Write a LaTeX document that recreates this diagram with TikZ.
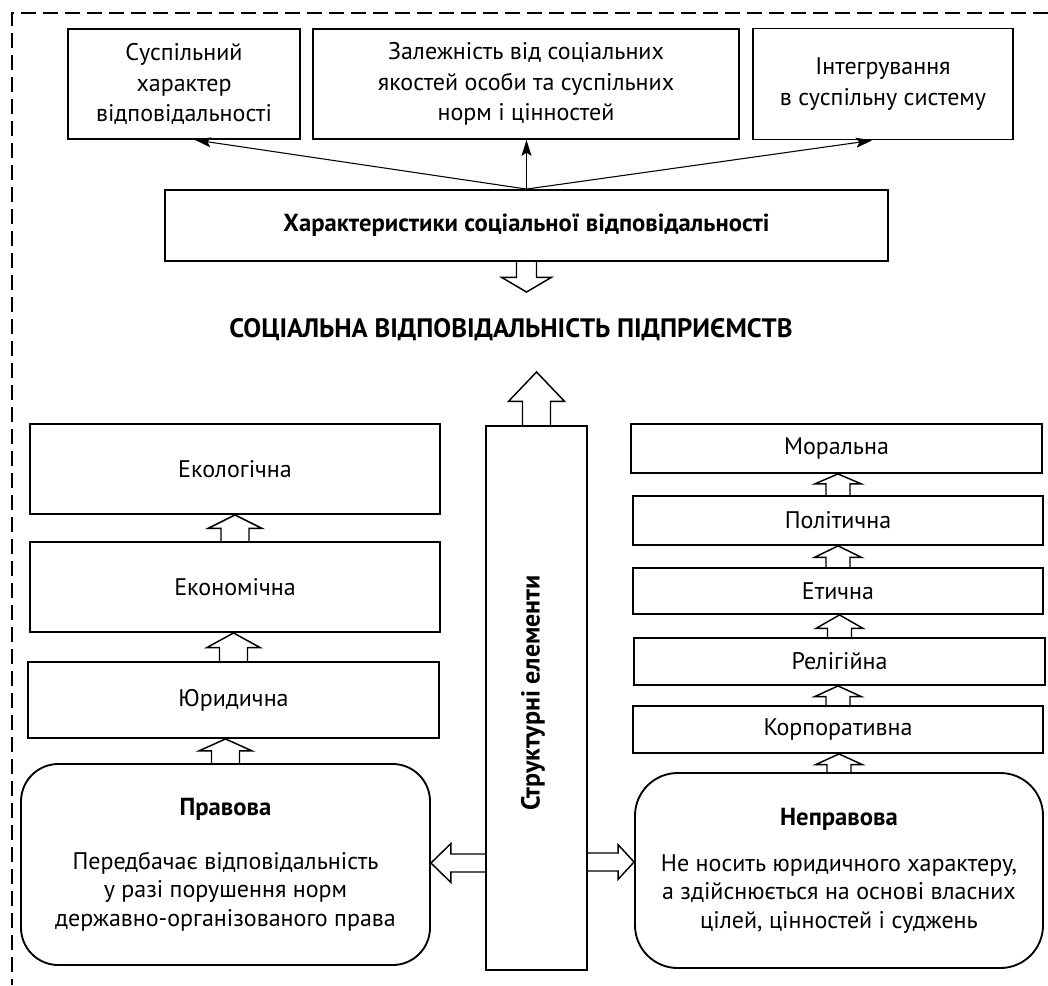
\documentclass[tikz,border=0pt]{standalone}
\usepackage{fontspec}
\setmainfont{PT Sans}
\usetikzlibrary{calc,arrows.meta}
\newcommand\myfs{\fontsize{18}{23}\selectfont}
\newcommand\rfs{\fontsize{18}{21.5}\selectfont}
\newcommand\mybf{\fontsize{18.5}{23}\selectfont\bfseries}
% hollow vertical arrow: start, tip, shaft half width, head half width, head length (signed)
\newcommand\hollowv[5]{%
  \draw[hollow] let \p1=#1, \p2=#2 in
    (\x1-#3,\y1) -- (\x1-#3,\y2-#5) -- (\x1-#4,\y2-#5) -- (\x1,\y2)
    -- (\x1+#4,\y2-#5) -- (\x1+#3,\y2-#5) -- (\x1+#3,\y1);}
% hollow horizontal arrow
\newcommand\hollowh[5]{%
  \draw[hollow] let \p1=#1, \p2=#2 in
    (\x1,\y1-#3) -- (\x2-#5,\y1-#3) -- (\x2-#5,\y1-#4) -- (\x2,\y1)
    -- (\x2-#5,\y1+#4) -- (\x2-#5,\y1+#3) -- (\x1,\y1+#3);}
\begin{document}
\begin{tikzpicture}[x=0.75pt,y=-0.75pt,
  box/.style={draw,line width=1.4pt,inner sep=0pt,align=center,font=\myfs},
  rbox/.style={box,font=\rfs,rounded corners=28pt},
  thinarrow/.style={line width=0.8pt,-{Stealth[length=12pt,width=7.5pt,inset=2.5pt]}},
  hollow/.style={line width=1.1pt,line join=miter},
  border/.style={line width=1.5pt,dash pattern=on 11pt off 5.5pt}]
\useasboundingbox (0,0) rectangle (1048,985);
% dashed frame (top and left edges visible)
\draw[border] (1048,13) -- (12,13) -- (12,985);

% top row
\node[box,minimum width=174pt,minimum height=82.5pt] (top1) at (184,84)
  {Суспільний\\характер\\відповідальності};
\node[box,minimum width=319.5pt,minimum height=82.5pt] (top2) at (526,84)
  {Залежність від соціальних\\якостей особи та суспільних\\норм і цінностей};
\node[box,minimum width=195pt,minimum height=83.25pt] (top3) at (883,84)
  {Інтегрування\\в суспільну систему};

\node[box,font=\mybf,minimum width=542.25pt,minimum height=53.25pt] (char) at (526.5,225.5)
  {Характеристики соціальної відповідальності};

\draw[thinarrow] (char.north) -- ($(top1.south west)!0.547!(top1.south east)$);
\draw[thinarrow] (char.north) -- (top2.south -| char.north);
\draw[thinarrow] (char.north) -- ($(top3.south west)!0.458!(top3.south east)$);

\node[font=\fontsize{20}{24}\selectfont\bfseries] (title) at (511,330)
  {СОЦІАЛЬНА ВІДПОВІДАЛЬНІСТЬ ПІДПРИЄМСТВ};
\coordinate (downtip) at (526.5,292);
\hollowv{(char.south)}{(downtip)}{7.5pt}{18.75pt}{-11pt}

% central column
\node[box,minimum width=75.75pt,minimum height=408pt] (struct) at (536.5,698) {};
\node[font=\fontsize{19.5}{23}\selectfont\bfseries,rotate=90] (structlbl) at (533,693) {Структурні елементи};
\coordinate (uptip) at (539,372);
\hollowv{(struct.north)}{(uptip)}{10.5pt}{21pt}{22pt}

% left column
\node[box,minimum width=307.5pt,minimum height=67.5pt] (eco) at (235,469) {Екологічна};
\node[box,minimum width=307.5pt,minimum height=67.5pt] (econ) at (235,587) {Економічна};
\node[box,minimum width=308.25pt,minimum height=57pt] (jur) at (233.5,700) {Юридична};
\node[rbox,minimum width=306.75pt,minimum height=150.75pt] (prav) at (225.5,864.5)
  {{\mybf Правова}\\[19pt]Передбачає відповідальність\\у разі порушення норм\\державно-організованого права};

\hollowv{(econ.north)}{(eco.south)}{10.5pt}{20pt}{10pt}
\hollowv{(jur.north)}{(econ.south)}{10.5pt}{20pt}{11pt}
\hollowv{(prav.north)}{(jur.south)}{10.5pt}{20pt}{9pt}

% right column
\node[box,minimum width=308.25pt,minimum height=36.75pt] (mor) at (836.5,448.5) {Моральна};
\node[box,minimum width=307.5pt,minimum height=36.75pt] (pol) at (838,520.5) {Політична};
\node[box,minimum width=307.5pt,minimum height=34.5pt] (eth) at (838,591) {Етична};
\node[box,minimum width=308.25pt,minimum height=35.25pt] (rel) at (839.5,661.5) {Релігійна};
\node[box,minimum width=307.5pt,minimum height=35.25pt] (korp) at (838,729.5) {Корпоративна};
\node[rbox,rounded corners=32pt,minimum width=306pt,minimum height=146.25pt] (neprav) at (839,870.5)
  {{\mybf Неправова}\\[13pt]Не носить юридичного характеру,\\а здійснюється на основі власних\\цілей, цінностей і суджень};

\hollowv{(pol.north)}{(mor.south)}{9pt}{17.5pt}{7.5pt}
\hollowv{(eth.north)}{(pol.south)}{9pt}{17.5pt}{8.5pt}
\hollowv{(rel.north)}{(eth.south)}{9pt}{17.5pt}{10pt}
\hollowv{(korp.north)}{(rel.south)}{9pt}{17.5pt}{8pt}
\hollowv{(neprav.north)}{(korp.south)}{9pt}{17.5pt}{8pt}

% side arrows
\hollowh{(struct.west |- 0,863)}{(prav.east |- 0,863)}{6.75pt}{14.6pt}{-15pt}
\hollowh{(struct.east |- 0,862)}{(neprav.west |- 0,862)}{6.75pt}{13pt}{12pt}
\end{tikzpicture}
\end{document}
